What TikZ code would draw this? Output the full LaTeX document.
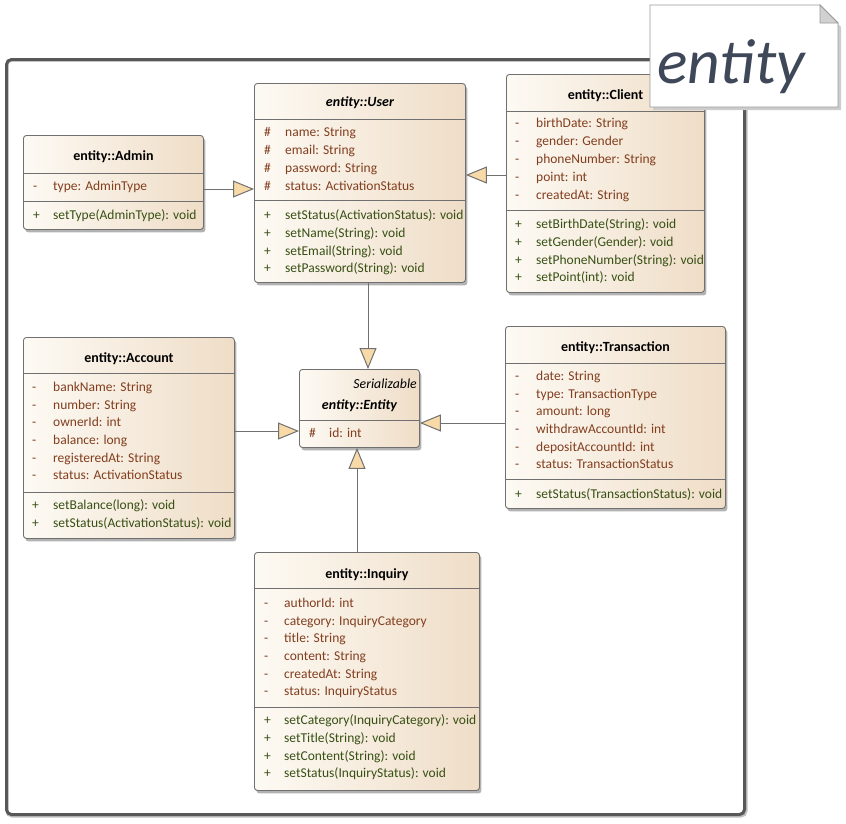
\documentclass[tikz,border=0pt]{standalone}
\usepackage{fontspec}
\setmainfont{Carlito}
\usetikzlibrary{arrows.meta,shadows}
\definecolor{attrc}{RGB}{130,62,30}
\definecolor{methc}{RGB}{55,80,20}
\definecolor{bordc}{RGB}{112,112,112}
\definecolor{boxl}{RGB}{253,250,244}
\definecolor{boxr}{RGB}{239,221,199}
\definecolor{trif}{RGB}{247,218,168}
\definecolor{framec}{RGB}{88,88,88}
\definecolor{notec}{RGB}{62,72,88}
\tikzset{
  cls/.style={draw=bordc, line width=0.9pt, rounded corners=3pt, left color=boxl, right color=boxr,
    inner sep=0pt, anchor=north west,
    drop shadow={shadow xshift=2pt, shadow yshift=-3pt, opacity=0.3, fill=black}},
  divl/.style={draw=bordc, line width=0.9pt},
  ttl/.style={font=\fontsize{14}{16}\selectfont\bfseries, inner sep=0pt, yshift=-1.5pt},
  sym/.style={anchor=west, inner sep=0pt, font=\fontsize{13.5}{15}\selectfont, text height=9.5pt, text depth=3pt, yshift=-1.5pt},
  attr/.style={text=attrc},
  meth/.style={text=methc},
  gen/.style={draw=bordc, line width=1pt, -{Triangle[length=21pt,width=17pt,fill=trif]}},
}
\newcommand\umlbox[5]{%
  \node[cls, minimum width={#4-#2}, minimum height={#5-#3}] (#1) at (#2,#3) {};}
\newcommand\hdiv[2]{\draw[divl] (#1.west|-0,#2) -- (#1.east|-0,#2);}
\newcommand\members[7]{% prefix, symx, textx, firsty, step, style, list
  \foreach [count=\i] \s/\t in {#7}{
    \node[sym,#6] (#1-\i-s) at ({#2},{#4+(\i-1)*#5}) {\s};
    \node[sym,#6] (#1-\i) at ({#3},{#4+(\i-1)*#5}) {\t};
  }}
\begin{document}
\begin{tikzpicture}[x=1pt,y=-1pt]
\useasboundingbox (0,0) rectangle (846,823);
% frame
\draw[line width=3pt, color=black!25, rounded corners=5pt] (7,60) rectangle (746,816);
\node[draw=framec, line width=3pt, rounded corners=5pt, minimum width=738pt, minimum height=755pt,
  anchor=north west, inner sep=0pt] (frame) at (5,58) {};

% Admin
\umlbox{admin}{23}{135}{203}{229}
\hdiv{admin}{173}\hdiv{admin}{201}
\node[ttl] (admin-t) at (admin.north|-0,155) {entity::Admin};
\members{admin-a}{33}{53}{186}{17.7}{attr}{-/type: AdminType}
\members{admin-m}{33}{53}{215}{17.7}{meth}{+/setType(AdminType): void}

% User
\umlbox{user}{254}{83}{465}{282}
\hdiv{user}{119}\hdiv{user}{200}
\node[ttl] (user-t) at (user.north|-0,101) {\itshape entity::User};
\members{user-a}{264}{285}{132}{18}{attr}{\#/name: String, \#/email: String, \#/password: String, \#/status: ActivationStatus}
\members{user-m}{264}{285}{215}{17.7}{meth}{+/setStatus(ActivationStatus): void, +/setName(String): void, +/setEmail(String): void, +/setPassword(String): void}

% Client
\umlbox{client}{506}{74}{704}{292}
\hdiv{client}{111}\hdiv{client}{210}
\node[ttl] (client-t) at (client.north|-0,94) {entity::Client};
\members{client-a}{515}{536}{123}{18}{attr}{-/birthDate: String, -/gender: Gender, -/phoneNumber: String, -/point: int, -/createdAt: String}
\members{client-m}{515}{536}{224}{17.7}{meth}{+/setBirthDate(String): void, +/setGender(Gender): void, +/setPhoneNumber(String): void, +/setPoint(int): void}

% Account
\umlbox{account}{23}{337}{234}{538}
\hdiv{account}{373}\hdiv{account}{492}
\node[ttl] (account-t) at (account.north|-0,357) {entity::Account};
\members{account-a}{32}{53}{387}{17.6}{attr}{-/bankName: String, -/number: String, -/ownerId: int, -/balance: long, -/registeredAt: String, -/status: ActivationStatus}
\members{account-m}{32}{53}{505}{18}{meth}{+/setBalance(long): void, +/setStatus(ActivationStatus): void}

% Entity
\umlbox{entity}{299}{369}{419}{447}
\hdiv{entity}{420}
\node[inner sep=0pt, anchor=east, font=\fontsize{13.8}{15}\selectfont\itshape, yshift=-1.5pt] (entity-s) at (417,382) {Serializable};
\node[ttl] (entity-t) at (entity.north|-0,404) {\itshape entity::Entity};
\members{entity-a}{309}{329}{433}{17.7}{attr}{\#/id: int}

% Transaction
\umlbox{trans}{505}{326}{725}{508}
\hdiv{trans}{363}\hdiv{trans}{479}
\node[ttl] (trans-t) at (trans.north|-0,346) {entity::Transaction};
\members{trans-a}{515}{536}{376}{17.6}{attr}{-/date: String, -/type: TransactionType, -/amount: long, -/withdrawAccountId: int, -/depositAccountId: int, -/status: TransactionStatus}
\members{trans-m}{515}{536}{494}{17.7}{meth}{+/setStatus(TransactionStatus): void}

% Inquiry
\umlbox{inquiry}{254}{552}{479}{790}
\hdiv{inquiry}{588}\hdiv{inquiry}{707}
\node[ttl] (inquiry-t) at (inquiry.north|-0,573) {entity::Inquiry};
\members{inquiry-a}{264}{284}{603}{17.6}{attr}{-/authorId: int, -/category: InquiryCategory, -/title: String, -/content: String, -/createdAt: String, -/status: InquiryStatus}
\members{inquiry-m}{264}{284}{720}{17.7}{meth}{+/setCategory(InquiryCategory): void, +/setTitle(String): void, +/setContent(String): void, +/setStatus(InquiryStatus): void}

% generalizations
\draw[gen] (admin.east|-0,189) -- (user.west|-0,189);
\draw[gen] (client.west|-0,175) -- (user.east|-0,175);
\draw[gen] (user.south-|368,0) -- (entity.north-|368,0);
\draw[gen] (account.east|-0,431) -- (entity.west|-0,431);
\draw[gen] (trans.west|-0,423) -- (entity.east|-0,423);
\draw[gen] (inquiry.north-|357,0) -- (entity.south-|357,0);

% note
\fill[black!20] (653,8) -- (822,8) -- (841,27) -- (841,110) -- (653,110) -- cycle;
\draw[fill=white, draw=black!40, line width=0.8pt] (650,5) -- (820,5) -- (838,23) -- (838,107) -- (650,107) -- cycle;
\draw[fill=black!18, draw=black!40, line width=0.8pt] (820,5) -- (820,23) -- (838,23) -- cycle;
\node[inner sep=0pt, text=notec, font=\fontsize{63.5}{64}\selectfont\itshape] (note) at (731,67) {entity};
\end{tikzpicture}
\end{document}
